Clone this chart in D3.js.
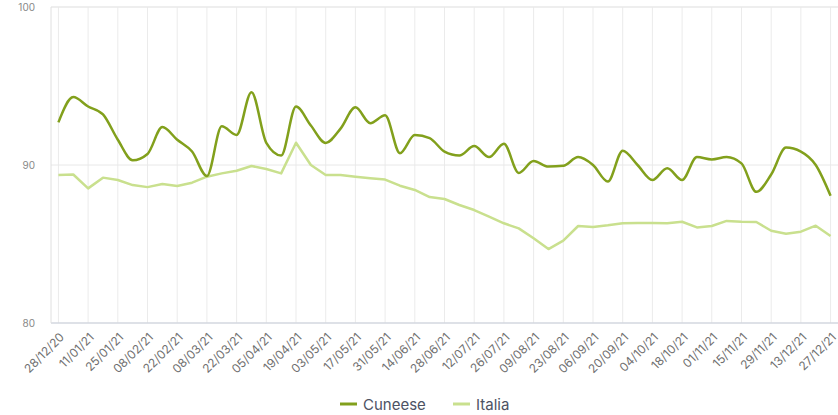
<!DOCTYPE html>
<html lang="en">
<head>
    <meta charset="UTF-8">
    <title>Cuneese vs Italia</title>
    <script src="https://d3js.org/d3.v7.min.js"></script>
    <style>
        body { margin: 0; background: #fff; font-family: Inter, "Open Sans", sans-serif; }
    </style>
</head>
<body>
<div id="my_dataviz"></div>
<script>
    // weekly dates
    var weeks = ["28/12/20","04/01/21","11/01/21","18/01/21","25/01/21","01/02/21","08/02/21","15/02/21",
        "22/02/21","01/03/21","08/03/21","15/03/21","22/03/21","29/03/21","05/04/21","12/04/21",
        "19/04/21","26/04/21","03/05/21","10/05/21","17/05/21","24/05/21","31/05/21","07/06/21",
        "14/06/21","21/06/21","28/06/21","05/07/21","12/07/21","19/07/21","26/07/21","02/08/21",
        "09/08/21","16/08/21","23/08/21","30/08/21","06/09/21","13/09/21","20/09/21","27/09/21",
        "04/10/21","11/10/21","18/10/21","25/10/21","01/11/21","08/11/21","15/11/21","22/11/21",
        "29/11/21","06/12/21","13/12/21","20/12/21","27/12/21"];

    var cuneese = [92.7,94.3,93.7,93.2,91.6,90.3,90.7,92.4,91.6,90.85,89.3,92.45,91.9,94.6,91.4,90.6,
        93.7,92.5,91.4,92.3,93.65,92.65,93.15,90.75,91.9,91.7,90.85,90.6,91.2,90.5,91.35,89.5,
        90.25,89.9,89.95,90.5,90.0,88.95,90.9,90.0,89.05,89.8,89.05,90.5,90.35,90.5,90.1,88.3,
        89.4,91.1,90.85,90.0,88.05];

    var italia = [89.37,89.4,88.52,89.2,89.05,88.73,88.6,88.8,88.67,88.88,89.26,89.47,89.64,89.94,89.75,89.47,
        91.41,90.0,89.37,89.37,89.26,89.16,89.08,88.69,88.42,87.97,87.85,87.47,87.15,86.73,86.31,85.99,
        85.36,84.68,85.21,86.14,86.08,86.18,86.31,86.33,86.33,86.31,86.41,86.05,86.14,86.46,86.41,86.39,
        85.84,85.65,85.78,86.16,85.51];

    var yTicks = [80, 90, 100];
    var seriesNames = ["Cuneese", "Italia"];
    var seriesColors = ["#82a01c", "#c9e08e"];

    var W = 838, H = 415;
    var margin = {top: 7, right: 0, bottom: 92, left: 51};
    var width = W - margin.left - margin.right,
        height = H - margin.top - margin.bottom;

    var svg = d3.select("#my_dataviz")
        .append("svg")
        .attr("width", W)
        .attr("height", H)
        .append("g")
        .attr("transform", "translate(" + margin.left + "," + margin.top + ")");

    var x = d3.scalePoint()
        .domain(weeks)
        .range([0, width])
        .padding(0.5);

    var y = d3.scaleLinear()
        .domain([80, 100])
        .range([height, 0]);

    // vertical grid, every 2 weeks
    var labelled = weeks.filter(function(d, i) { return i % 2 === 0; });
    svg.append("g")
        .selectAll("line")
        .data(labelled)
        .enter()
        .append("line")
        .attr("x1", function(d) { return x(d); })
        .attr("x2", function(d) { return x(d); })
        .attr("y1", 0)
        .attr("y2", height)
        .attr("stroke", "#ebebeb")
        .attr("stroke-width", 1);

    // horizontal grid
    svg.append("g")
        .selectAll("line")
        .data(yTicks)
        .enter()
        .append("line")
        .attr("x1", 0)
        .attr("x2", width)
        .attr("y1", function(d) { return y(d); })
        .attr("y2", function(d) { return y(d); })
        .attr("stroke", function(d) { return d === 80 ? "#d3d7df" : "#e8e8e8"; })
        .attr("stroke-width", function(d) { return d === 90 ? 1 : 1.5; });

    // left axis line
    svg.append("line")
        .attr("x1", 0).attr("x2", 0)
        .attr("y1", 0).attr("y2", height)
        .attr("stroke", "#e0e0e0");

    // Y axis labels
    var yAxis = svg.append("g")
        .call(d3.axisLeft(y).tickValues(yTicks).tickSize(0).tickPadding(16));
    yAxis.select(".domain").remove();
    yAxis.selectAll("text")
        .attr("fill", "#888")
        .style("font-family", "Inter, sans-serif")
        .style("font-size", "10px");

    // X axis labels
    var xAxis = svg.append("g")
        .attr("transform", "translate(0," + height + ")")
        .call(d3.axisBottom(x).tickValues(labelled).tickSize(0));
    xAxis.select(".domain").remove();
    xAxis.selectAll("text")
        .attr("fill", "#707070")
        .attr("y", 0)
        .attr("dy", 0)
        .style("font-family", "Inter, sans-serif")
        .style("font-size", "12px")
        .style("text-anchor", "end")
        .attr("transform", "translate(6,15) rotate(-45)");

    // lines
    var lineItalia = d3.line()
        .x(function(d, i) { return x(weeks[i]); })
        .y(function(d) { return y(d); });

    var lineCuneese = d3.line()
        .x(function(d, i) { return x(weeks[i]); })
        .y(function(d) { return y(d); })
        .curve(d3.curveMonotoneX);

    svg.append("path")
        .datum(italia)
        .attr("fill", "none")
        .attr("stroke", seriesColors[1])
        .attr("stroke-width", 2.5)
        .attr("stroke-linejoin", "round")
        .attr("d", lineItalia);

    svg.append("path")
        .datum(cuneese)
        .attr("fill", "none")
        .attr("stroke", seriesColors[0])
        .attr("stroke-width", 2.5)
        .attr("stroke-linejoin", "round")
        .attr("d", lineCuneese);

    // legend
    var legend = d3.select("svg").append("g")
        .attr("transform", "translate(340,404)");
    var legX = [0, 113];
    seriesNames.forEach(function(name, i) {
        var g = legend.append("g").attr("transform", "translate(" + legX[i] + ",0)");
        g.append("line")
            .attr("x1", 0).attr("x2", 17)
            .attr("y1", 0).attr("y2", 0)
            .attr("stroke", seriesColors[i])
            .attr("stroke-width", 3);
        g.append("text")
            .attr("x", 23)
            .attr("y", 5.5)
            .attr("fill", "#4d5263")
            .style("font-family", "Inter, sans-serif")
            .style("font-size", "15px")
            .text(name);
    });
</script>
</body>
</html>
